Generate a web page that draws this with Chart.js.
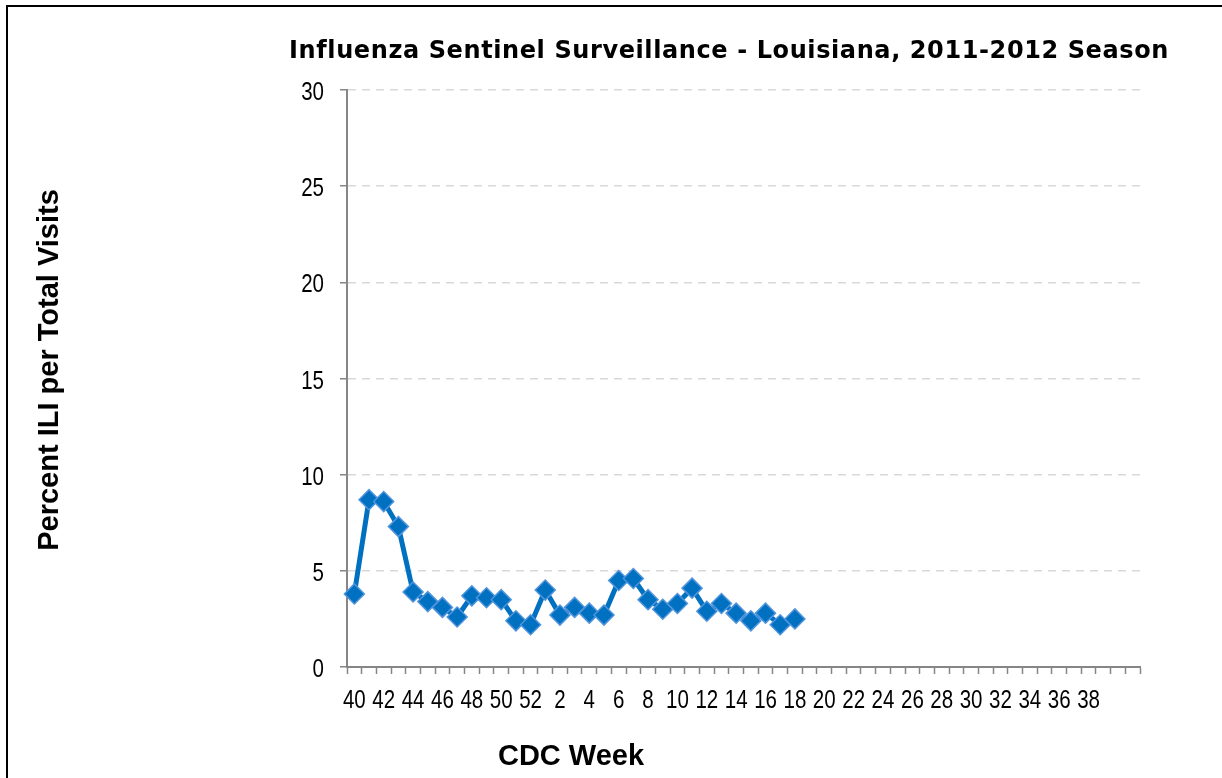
<!DOCTYPE html>
<html>
<head>
<meta charset="utf-8">
<script src="https://cdn.jsdelivr.net/npm/chart.js@4/dist/chart.umd.min.js"></script>
<style>
  html, body { margin: 0; padding: 0; background: #fff; }
  #wrap { width: 1222px; height: 778px; }
</style>
</head>
<body>
<div id="wrap"><canvas id="iliChart" width="1222" height="778"></canvas></div>
<script>
// CDC weeks of the 2011-2012 season (two empty slots at the end, as in the source sheet)
const weeks = [40, 41, 42, 43, 44, 45, 46, 47, 48, 49, 50, 51, 52,
  1, 2, 3, 4, 5, 6, 7, 8, 9, 10, 11, 12, 13, 14, 15, 16, 17, 18, 19, 20,
  21, 22, 23, 24, 25, 26, 27, 28, 29, 30, 31, 32, 33, 34, 35, 36, 37, 38, 39, '', ''];

// Percent ILI, reported weeks only (40 .. 18)
const pctILI = [3.8, 8.7, 8.6, 7.3, 3.9, 3.4, 3.1, 2.6, 3.7, 3.6, 3.5, 2.4, 2.2,
  4.0, 2.7, 3.1, 2.8, 2.7, 4.5, 4.6, 3.5, 3.0, 3.3, 4.1, 2.9, 3.3, 2.8, 2.4, 2.8, 2.2, 2.5];

const yTicks = [0, 5, 10, 15, 20, 25, 30];

const titleText = 'Influenza Sentinel Surveillance - Louisiana, 2011-2012 Season';
const yTitle = 'Percent ILI per Total Visits';
const xTitle = 'CDC Week';

const axisGrey = '#868686';
const tickFont = "25px 'Liberation Sans', Arial, sans-serif";
const squeeze = 0.82; // fake the narrow (Arial Narrow style) tick digits

// draws narrow text: x is the anchor, align 'center' or 'right'
function narrowText(c, txt, x, y, align) {
  c.save();
  c.translate(x, y);
  c.scale(squeeze, 1);
  c.textAlign = align;
  c.fillText(txt, 0, 0);
  c.restore();
}

// titles, tick labels and frame drawn by hand so they sit where the original put them
const decorations = {
  id: 'decorations',
  afterDraw(chart) {
    const c = chart.ctx;
    const xs = chart.scales.x;
    const ys = chart.scales.y;
    c.save();
    c.strokeStyle = '#000';
    c.lineWidth = 2;
    c.beginPath();
    c.moveTo(7, 800);
    c.lineTo(7, 6);
    c.lineTo(1230, 6);
    c.stroke();

    c.fillStyle = '#000';
    c.textBaseline = 'alphabetic';

    // tick labels, placed through the scales
    c.font = tickFont;
    xs.ticks.forEach((t, i) => {
      if (i % 2 !== 0) return;
      const lab = String(xs.getLabelForValue(t.value));
      if (!lab) return;
      narrowText(c, lab, xs.getPixelForTick(i), 708, 'center');
    });
    ys.ticks.forEach((t) => {
      narrowText(c, String(t.value), 324, ys.getPixelForValue(t.value) + 10, 'right');
    });

    c.textAlign = 'center';
    c.font = "bold 24px 'DejaVu Sans', Verdana, sans-serif";
    c.letterSpacing = '0.6px';
    c.fillText(titleText, 729, 58);
    c.letterSpacing = '0px';

    c.font = "bold 29px 'Liberation Sans', Arial, sans-serif";
    c.fillText(xTitle, 571, 765);

    c.translate(58, 370);
    c.rotate(-Math.PI / 2);
    c.fillText(yTitle, 0, 0);
    c.restore();
  }
};

const ctx = document.getElementById('iliChart').getContext('2d');

new Chart(ctx, {
  type: 'line',
  data: {
    labels: weeks,
    datasets: [{
      label: 'Percent ILI',
      data: pctILI,
      borderColor: '#0070C0',
      borderWidth: 5,
      tension: 0,
      pointStyle: 'rectRot',
      pointRadius: 10,
      pointBackgroundColor: '#0070C0',
      pointBorderColor: '#4f94dc',
      pointBorderWidth: 1.5
    }]
  },
  options: {
    responsive: false,
    animation: false,
    devicePixelRatio: 1,
    layout: { padding: { left: 0, top: 90, right: 82, bottom: 0 } },
    plugins: {
      legend: { display: false },
      title: { display: false },
      tooltip: { enabled: false }
    },
    scales: {
      x: {
        type: 'category',
        offset: true,
        afterFit: (s) => { s.height = 111; },
        grid: {
          offset: true,
          drawOnChartArea: false,
          drawTicks: true,
          tickLength: 7,
          tickColor: axisGrey,
          tickWidth: 1.5
        },
        border: { color: axisGrey, width: 2 },
        ticks: { display: false, autoSkip: false, maxRotation: 0 }
      },
      y: {
        min: yTicks[0],
        max: yTicks[yTicks.length - 1],
        afterFit: (s) => { s.width = 347; },
        afterBuildTicks: (s) => { s.ticks = yTicks.map(v => ({ value: v })); },
        grid: {
          color: '#d9d9d9',
          lineWidth: 1.5,
          tickColor: axisGrey,
          tickLength: 7,
          tickWidth: 1.5,
          tickBorderDash: []
        },
        border: { color: axisGrey, width: 2, dash: [8, 6] },
        ticks: { display: false }
      }
    }
  },
  plugins: [decorations]
});
</script>
</body>
</html>
